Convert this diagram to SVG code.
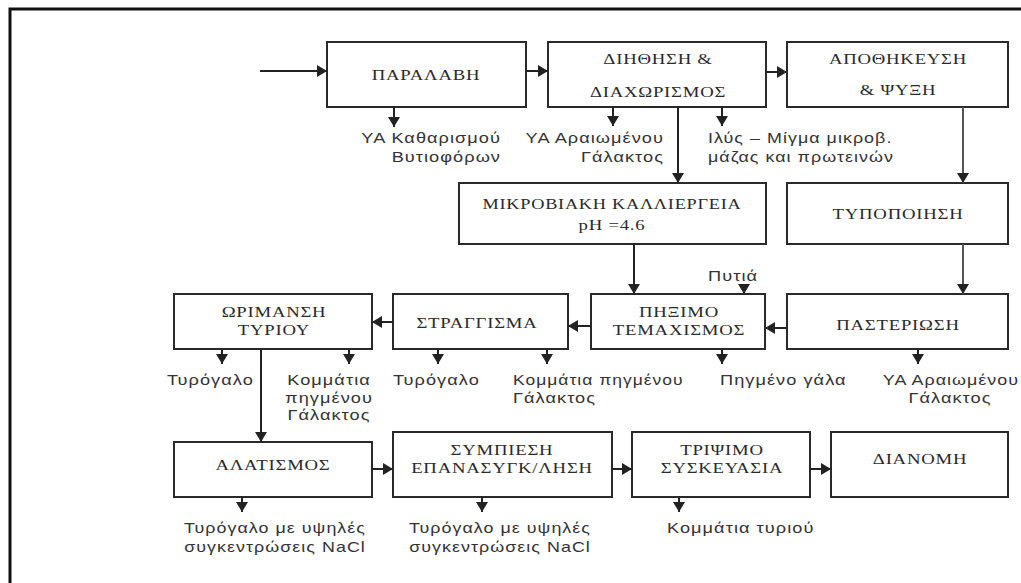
<svg xmlns="http://www.w3.org/2000/svg" width="1021" height="583" viewBox="0 0 1021 583">
<style>
.box{fill:#fff;stroke:#2a2a2a;stroke-width:2}
.bt{font-family:"Liberation Serif","Times New Roman",serif;font-size:15px;fill:#2a2a2a;text-anchor:middle;letter-spacing:0.6px}
.lb{font-family:"Liberation Sans",Arial,sans-serif;font-size:14px;fill:#333;letter-spacing:0.8px}
.c{stroke:#222;stroke-width:2;fill:none;marker-end:url(#ah)}
</style>
<defs>
<marker id="ah" markerUnits="userSpaceOnUse" markerWidth="11" markerHeight="12" refX="10" refY="6" orient="auto">
<path d="M0,0 L10,6 L0,12 z" fill="#222"/>
</marker>
</defs>
<rect width="1021" height="583" fill="#fff"/>
<path d="M10,583 V9 H1021" fill="none" stroke="#111" stroke-width="3"/>

<g id="n-paralavi"><rect class="box" x="327" y="42" width="199" height="65"/><text class="bt" transform="translate(426,80) scale(1.25,1)">ΠΑΡΑΛΑΒΗ</text></g>
<g id="n-diithisi"><rect class="box" x="548" y="42" width="218" height="65"/><text class="bt" transform="translate(658,64) scale(1.25,1)">ΔΙΗΘΗΣΗ &amp;</text><text class="bt" transform="translate(658,97) scale(1.25,1)">ΔΙΑΧΩΡΙΣΜΟΣ</text></g>
<g id="n-apothikefsi"><rect class="box" x="787" y="42" width="221" height="65"/><text class="bt" transform="translate(898,64) scale(1.25,1)">ΑΠΟΘΗΚΕΥΣΗ</text><text class="bt" transform="translate(898,95) scale(1.25,1)">&amp; ΨΥΞΗ</text></g>
<g id="n-mikroviaki"><rect class="box" x="459" y="183" width="307" height="61"/><text class="bt" transform="translate(612,209) scale(1.22,1)">ΜΙΚΡΟΒΙΑΚΗ ΚΑΛΛΙΕΡΓΕΙΑ</text><text class="bt" transform="translate(612,230) scale(1.25,1)">pH =4.6</text></g>
<g id="n-typopoiisi"><rect class="box" x="787" y="183" width="221" height="61"/><text class="bt" transform="translate(898,219) scale(1.25,1)">ΤΥΠΟΠΟΙΗΣΗ</text></g>
<g id="n-orimansi"><rect class="box" x="174" y="294" width="198" height="55"/><text class="bt" transform="translate(274,317) scale(1.25,1)">ΩΡΙΜΑΝΣΗ</text><text class="bt" transform="translate(274,335) scale(1.25,1)">ΤΥΡΙΟΥ</text></g>
<g id="n-straggisma"><rect class="box" x="393" y="294" width="175" height="55"/><text class="bt" transform="translate(477,328) scale(1.25,1)">ΣΤΡΑΓΓΙΣΜΑ</text></g>
<g id="n-piximo"><rect class="box" x="591" y="294" width="174" height="55"/><text class="bt" transform="translate(679,317) scale(1.25,1)">ΠΗΞΙΜΟ</text><text class="bt" transform="translate(679,335) scale(1.25,1)">ΤΕΜΑΧΙΣΜΟΣ</text></g>
<g id="n-pasteriosi"><rect class="box" x="787" y="294" width="221" height="55"/><text class="bt" transform="translate(898,330) scale(1.25,1)">ΠΑΣΤΕΡΙΩΣΗ</text></g>
<g id="n-alatismos"><rect class="box" x="174" y="442" width="198" height="55"/><text class="bt" transform="translate(273,470) scale(1.25,1)">ΑΛΑΤΙΣΜΟΣ</text></g>
<g id="n-sympiesi"><rect class="box" x="393" y="432" width="219" height="65"/><text class="bt" transform="translate(502,455) scale(1.25,1)">ΣΥΜΠΙΕΣΗ</text><text class="bt" transform="translate(502,473) scale(1.25,1)">ΕΠΑΝΑΣΥΓΚ/ΛΗΣΗ</text></g>
<g id="n-tripsimo"><rect class="box" x="632" y="432" width="178" height="65"/><text class="bt" transform="translate(722,455) scale(1.25,1)">ΤΡΙΨΙΜΟ</text><text class="bt" transform="translate(722,473) scale(1.25,1)">ΣΥΣΚΕΥΑΣΙΑ</text></g>
<g id="n-dianomi"><rect class="box" x="831" y="432" width="177" height="65"/><text class="bt" transform="translate(920,464) scale(1.25,1)">ΔΙΑΝΟΜΗ</text></g>

<g id="labels">
<text class="lb" text-anchor="end" transform="translate(501,143) scale(1.3,1)">ΥΑ Καθαρισμού</text>
<text class="lb" text-anchor="end" transform="translate(501,162) scale(1.3,1)">Βυτιοφόρων</text>
<text class="lb" text-anchor="end" transform="translate(664,143) scale(1.3,1)">ΥΑ Αραιωμένου</text>
<text class="lb" text-anchor="end" transform="translate(664,162) scale(1.3,1)">Γάλακτος</text>
<text class="lb" transform="translate(708,143) scale(1.28,1)">Ιλύς – Μίγμα μικροβ.</text>
<text class="lb" transform="translate(708,162) scale(1.28,1)">μάζας και πρωτεινών</text>
<text class="lb" text-anchor="middle" transform="translate(733,281) scale(1.3,1)">Πυτιά</text>
<text class="lb" transform="translate(167,385) scale(1.3,1)">Τυρόγαλο</text>
<text class="lb" text-anchor="middle" transform="translate(329,385) scale(1.3,1)">Κομμάτια</text>
<text class="lb" text-anchor="middle" transform="translate(329,403) scale(1.3,1)">πηγμένου</text>
<text class="lb" text-anchor="middle" transform="translate(329,420) scale(1.3,1)">Γάλακτος</text>
<text class="lb" transform="translate(393,385) scale(1.3,1)">Τυρόγαλο</text>
<text class="lb" transform="translate(513,385) scale(1.25,1)">Κομμάτια πηγμένου</text>
<text class="lb" transform="translate(513,403) scale(1.3,1)">Γάλακτος</text>
<text class="lb" transform="translate(720,385) scale(1.3,1)">Πηγμένο γάλα</text>
<text class="lb" text-anchor="middle" transform="translate(951,385) scale(1.28,1)">ΥΑ Αραιωμένου</text>
<text class="lb" text-anchor="middle" transform="translate(950,403) scale(1.3,1)">Γάλακτος</text>
<text class="lb" text-anchor="middle" transform="translate(275,533) scale(1.28,1)">Τυρόγαλο με υψηλές</text>
<text class="lb" text-anchor="middle" transform="translate(275,552) scale(1.28,1)">συγκεντρώσεις NaCl</text>
<text class="lb" text-anchor="middle" transform="translate(500,533) scale(1.28,1)">Τυρόγαλο με υψηλές</text>
<text class="lb" text-anchor="middle" transform="translate(500,552) scale(1.28,1)">συγκεντρώσεις NaCl</text>
<text class="lb" transform="translate(667,533) scale(1.3,1)">Κομμάτια τυριού</text>
</g>

<g id="connectors">
<path class="c" d="M260,71 H327"/>
<path class="c" d="M526,71 H548"/>
<path class="c" d="M766,72 H787"/>
<path class="c" d="M394,107 V127"/>
<path class="c" d="M613,107 V126"/>
<path class="c" d="M722,107 V126"/>
<path class="c" d="M678,107 V183"/>
<path class="c" d="M963,107 V183" style="stroke:#555"/>
<path class="c" d="M634,244 V294"/>
<path class="c" d="M744,285 V294"/>
<path class="c" d="M963,244 V294" style="stroke:#555"/>
<path class="c" d="M787,328 H765"/>
<path class="c" d="M591,326 H568"/>
<path class="c" d="M393,322 H372"/>
<path class="c" d="M222,349 V364"/>
<path class="c" d="M349,349 V364"/>
<path class="c" d="M438,349 V364"/>
<path class="c" d="M547,349 V364"/>
<path class="c" d="M722,349 V364"/>
<path class="c" d="M918,349 V364"/>
<path class="c" d="M261,349 V442"/>
<path class="c" d="M372,469 H393"/>
<path class="c" d="M612,469 H632"/>
<path class="c" d="M810,469 H831"/>
<path class="c" d="M242,497 V512"/>
<path class="c" d="M482,497 V512"/>
<path class="c" d="M679,497 V512"/>
</g>
</svg>
